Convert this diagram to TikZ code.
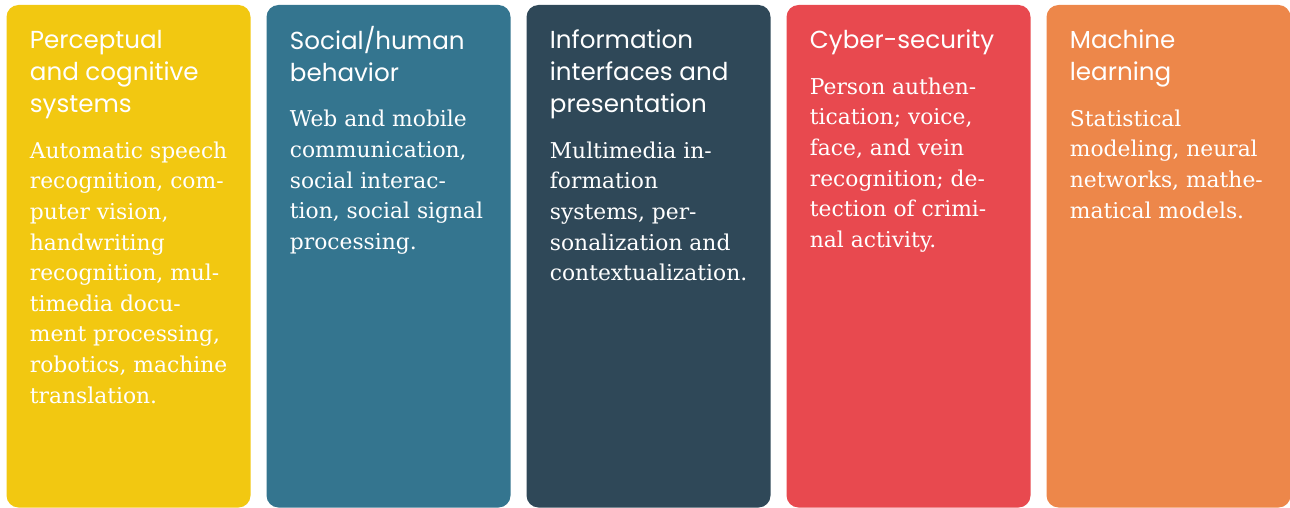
\documentclass[tikz,border=0pt]{standalone}
\usepackage{fontspec}
\setmainfont{DejaVu Serif}
\newfontfamily\headfont{Poppins}
\usetikzlibrary{positioning}

\definecolor{percyellow}{HTML}{F2C811}
\definecolor{socialblue}{HTML}{34758F}
\definecolor{infodark}{HTML}{2F4858}
\definecolor{cyberred}{HTML}{E8494F}
\definecolor{learnorange}{HTML}{ED874A}

\tikzset{
  panel/.style={rounded corners=6pt},
  head/.style={anchor=north west,inner sep=0pt,align=left,text=white,
    font=\headfont\fontsize{12.3}{16}\selectfont},
  body/.style={anchor=north west,inner sep=0pt,align=left,text=white,
    font=\fontsize{10.9}{15.3}\selectfont},
}

\begin{document}
\begin{tikzpicture}[x=0.5pt,y=-0.5pt]
    \useasboundingbox (0,0) rectangle (1290,508);
    % the five panels
    \foreach \c [count=\i from 0] in {percyellow,socialblue,infodark,cyberred,learnorange}
      \fill[panel,\c] (6.5+260*\i,5) rectangle ++(244,502.5);
    % headings
    \node[head] (h_perc)   at (29.5,25.6)   {\strut Perceptual\\and cognitive\\systems\strut};
    \node[head] (h_social) at (289.5,25.6)  {\strut Social/human\\behavior\strut};
    \node[head] (h_info)   at (549.5,25.6)  {\strut Information\\interfaces and\\presentation\strut};
    \node[head] (h_cyber)  at (809.5,25.6)  {\strut Cyber-security\strut};
    \node[head] (h_learn)  at (1069.5,25.6) {\strut Machine\\learning\strut};
    % bodies
    \node[body] (b_perc)   [below=7pt of h_perc.south west,anchor=north west]
      {\strut Automatic speech\\recognition, com-\\puter vision,\\handwriting\\recognition, mul-\\timedia docu-\\ment processing,\\robotics, machine\\translation.};
    \node[body] (b_social) [below=7pt of h_social.south west,anchor=north west]
      {\strut Web and mobile\\communication,\\social interac-\\tion, social signal\\processing.};
    \node[body] (b_info)   [below=7pt of h_info.south west,anchor=north west]
      {\strut Multimedia in-\\formation\\systems, per-\\sonalization and\\contextualization.};
    \node[body] (b_cyber)  [below=7pt of h_cyber.south west,anchor=north west]
      {\strut Person authen-\\tication; voice,\\face, and vein\\recognition; de-\\tection of crimi-\\nal activity.};
    \node[body] (b_learn)  [below=7pt of h_learn.south west,anchor=north west]
      {\strut Statistical\\modeling, neural\\networks, mathe-\\matical models.};
\end{tikzpicture}
\end{document}
